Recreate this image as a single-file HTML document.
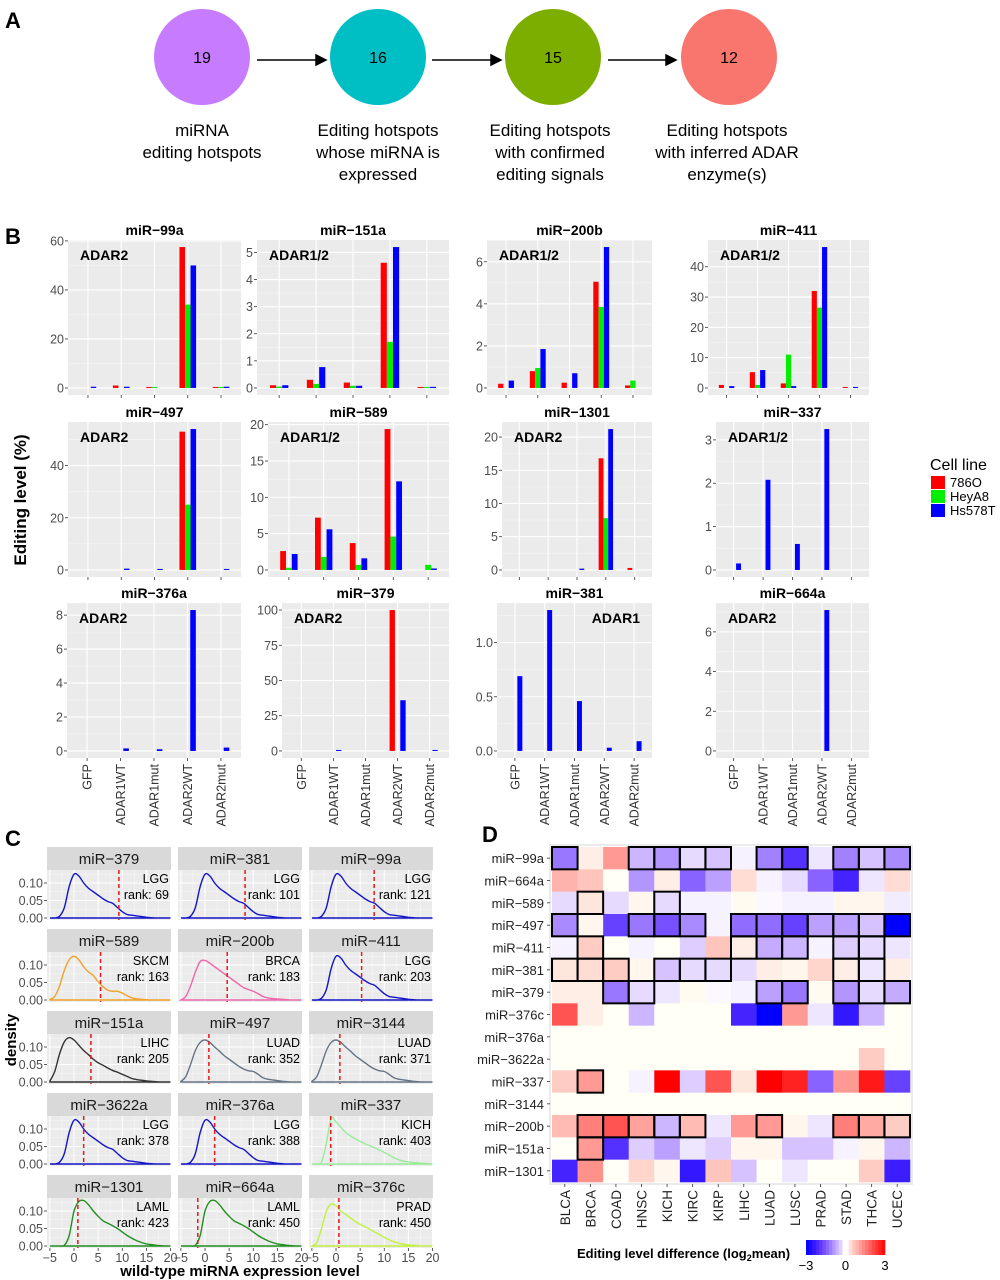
<!DOCTYPE html>
<html><head><meta charset="utf-8"><title>miRNA editing figure</title>
<style>
html,body{margin:0;padding:0;background:#fff;}
svg{display:block;font-family:"Liberation Sans",Arial,sans-serif;}
</style></head>
<body>
<svg id="fig" width="1000" height="1280" viewBox="0 0 1000 1280" xmlns="http://www.w3.org/2000/svg">
<g>
<text x="5" y="28" font-size="22" font-weight="bold">A</text>
<circle cx="202" cy="57" r="48" fill="#c77cff"/>
<circle cx="378" cy="57" r="48" fill="#00bfc4"/>
<circle cx="553" cy="57" r="48" fill="#7cae00"/>
<circle cx="729" cy="57" r="48" fill="#f8766d"/>
<text x="202" y="63" font-size="16" text-anchor="middle">19</text>
<text x="378" y="63" font-size="16" text-anchor="middle">16</text>
<text x="553" y="63" font-size="16" text-anchor="middle">15</text>
<text x="729" y="63" font-size="16" text-anchor="middle">12</text>
<g stroke="#000" stroke-width="1.5" fill="#000">
<line x1="257" y1="60" x2="318" y2="60"/><polygon points="326,60 316,55 316,65"/>
<line x1="432" y1="60" x2="493" y2="60"/><polygon points="501,60 491,55 491,65"/>
<line x1="608" y1="60" x2="668" y2="60"/><polygon points="676,60 666,55 666,65"/>
</g>
<g font-size="17" text-anchor="middle">
<text x="202" y="136"><tspan x="202">miRNA</tspan><tspan x="202" dy="22">editing hotspots</tspan></text>
<text x="378" y="136"><tspan x="378">Editing hotspots</tspan><tspan x="378" dy="22">whose miRNA is</tspan><tspan x="378" dy="22">expressed</tspan></text>
<text x="550" y="136"><tspan x="550">Editing hotspots</tspan><tspan x="550" dy="22">with confirmed</tspan><tspan x="550" dy="22">editing signals</tspan></text>
<text x="727" y="136"><tspan x="727">Editing hotspots</tspan><tspan x="727" dy="22">with inferred ADAR</tspan><tspan x="727" dy="22">enzyme(s)</tspan></text>
</g>
</g>
<text x="5" y="244" font-size="22" font-weight="bold">B</text>
<text x="5" y="846" font-size="22" font-weight="bold">C</text>
<text x="482" y="842" font-size="22" font-weight="bold">D</text>
<text transform="translate(26,500) rotate(-90)" font-size="17" font-weight="bold" text-anchor="middle">Editing level (%)</text>
<g>
<text x="930" y="470" font-size="16">Cell line</text>
<rect x="931" y="476" width="14" height="13" fill="#ff0000"/>
<text x="950" y="487" font-size="13">786O</text>
<rect x="931" y="490" width="14" height="13" fill="#00ee00"/>
<text x="950" y="501" font-size="13">HeyA8</text>
<rect x="931" y="504" width="14" height="13" fill="#0000ff"/>
<text x="950" y="515" font-size="13">Hs578T</text>
</g>
<text transform="translate(16,1040) rotate(-90)" font-size="15" font-weight="bold" text-anchor="middle">density</text>
<text x="240" y="1276" font-size="15" font-weight="bold" text-anchor="middle">wild-type miRNA expression level</text>
</svg>
<script>
// ---------- Panel B data ----------
const bGroups = ['GFP','ADAR1WT','ADAR1mut','ADAR2WT','ADAR2mut'];
const bNames = ['miR-99a','miR-151a','miR-200b','miR-411','miR-497','miR-589','miR-1301','miR-337','miR-376a','miR-379','miR-381','miR-664a'];
const bEnzymes = ['ADAR2','ADAR1/2','ADAR1/2','ADAR1/2','ADAR2','ADAR1/2','ADAR2','ADAR1/2','ADAR2','ADAR2','ADAR1','ADAR2'];
const bRed = [[0,1,0.3,57.5,0.3],[0.1,0.3,0.2,4.62,0.03],[0.2,0.8,0.25,5.05,0.12],[1,5.2,1.5,32,0.2],[0,0,0,53,0],[2.6,7.2,3.7,19.4,0],[0,0,0,16.8,0.3],[0,0,0,0,0],[0,0,0,0,0],[0,0,0,100,0],[0,0,0,0,0],[0,0,0,0,0]];
const bGreen = [[0,0,0.3,34,0.3],[0.05,0.15,0.08,1.7,0.03],[0,0.95,0,3.85,0.35],[0,1,11,26.5,0],[0,0,0,25,0],[0.3,1.8,0.7,4.6,0.7],[0,0,0,7.8,0],[0,0,0,0,0],[0,0,0,0,0],[0,0,0,0,0],[0,0,0,0,0],[0,0,0,0,0]];
const bBlue = [[0.5,0.5,0,50,0.5],[0.1,0.77,0.08,5.2,0.04],[0.35,1.85,0.7,6.7,0],[0.6,5.9,0.6,46.5,0.2],[0,0.5,0.1,54,0.1],[2.2,5.6,1.6,12.2,0.2],[0,0,0.2,21.2,0],[0.15,2.08,0.6,3.25,0],[0,0.15,0.1,8.3,0.2],[0,0.5,0,36,0.2],[0.69,1.3,0.46,0.03,0.09],[0,0,0,7.1,0]];
const bTicks = [[0,20,40,60],[0,1,2,3,4,5],[0,2,4,6],[0,10,20,30,40],[0,20,40],[0,5,10,15,20],[0,5,10,15,20],[0,1,2,3],[0,2,4,6,8],[0,25,50,75,100],[0,0.5,1.0],[0,2,4,6]];
const bTickLabels = [['0','20','40','60'],['0','1','2','3','4','5'],['0','2','4','6'],['0','10','20','30','40'],['0','20','40'],['0','5','10','15','20'],['0','5','10','15','20'],['0','1','2','3'],['0','2','4','6','8'],['0','25','50','75','100'],['0.0','0.5','1.0'],['0','2','4','6']];

// ---------- Panel C data ----------
const cNames = ['miR-379','miR-381','miR-99a','miR-589','miR-200b','miR-411','miR-151a','miR-497','miR-3144','miR-3622a','miR-376a','miR-337','miR-1301','miR-664a','miR-376c'];
const cTissue = ['LGG','LGG','LGG','SKCM','BRCA','LGG','LIHC','LUAD','LUAD','LGG','LGG','KICH','LAML','LAML','PRAD'];
const cRank = [69,101,121,163,183,203,205,352,371,378,388,403,423,450,450];
const cCutoff = [9.3,8.3,7.9,5.5,4.6,5.3,3.5,0.8,0.8,2.0,2.0,-1.1,0.8,-1.5,0.6];
const cDensX = [-5,-4,-3,-2,-1,0,1,2,3,4,5,6,7,8,9,10,11,12,13,14,15,16,17,18,19,20];
const densLGG  = [0,0,0.005,0.03,0.09,0.125,0.12,0.1,0.085,0.075,0.065,0.055,0.047,0.042,0.03,0.018,0.01,0.008,0.006,0.004,0.002,0.001,0,0,0,0];
const densSKCM = [0.002,0.01,0.04,0.085,0.115,0.125,0.115,0.095,0.08,0.07,0.052,0.038,0.028,0.025,0.025,0.02,0.012,0.006,0.003,0.002,0.001,0,0,0,0,0];
const densBRCA = [0,0.01,0.04,0.08,0.11,0.113,0.105,0.095,0.085,0.075,0.065,0.055,0.045,0.035,0.03,0.025,0.018,0.01,0.006,0.004,0.003,0.002,0.001,0,0,0];
const densLIHC = [0.003,0.03,0.08,0.115,0.127,0.12,0.105,0.09,0.078,0.065,0.055,0.048,0.04,0.033,0.028,0.022,0.016,0.01,0.007,0.005,0.003,0.002,0.001,0,0,0];
const densLUAD = [0.002,0.015,0.05,0.09,0.113,0.12,0.113,0.1,0.088,0.075,0.065,0.055,0.045,0.037,0.032,0.03,0.022,0.012,0.008,0.006,0.004,0.002,0.001,0,0,0];
const densKICH = [0,0,0.005,0.06,0.13,0.12,0.105,0.09,0.08,0.072,0.065,0.058,0.052,0.046,0.04,0.033,0.026,0.018,0.012,0.008,0.006,0.004,0.003,0.002,0.001,0];
const densLAML = [0,0,0,0.002,0.03,0.1,0.127,0.13,0.118,0.1,0.085,0.072,0.065,0.058,0.05,0.04,0.03,0.022,0.015,0.01,0.006,0.004,0.002,0.001,0,0];
const densPRAD = [0,0.01,0.05,0.1,0.12,0.115,0.1,0.09,0.08,0.07,0.062,0.055,0.048,0.04,0.033,0.025,0.018,0.012,0.008,0.005,0.003,0.002,0.001,0,0,0];
const cYTicks = [0,0.05,0.10];
const cYTickLabels = ['0.00','0.05','0.10'];
const cXTicks = [-5,0,5,10,15,20];
const cXTickLabels = ['\u22125','0','5','10','15','20'];

// ---------- Panel D data ----------
const hmRows = ['miR-99a','miR-664a','miR-589','miR-497','miR-411','miR-381','miR-379','miR-376c','miR-376a','miR-3622a','miR-337','miR-3144','miR-200b','miR-151a','miR-1301'];
const hmCols = ['BLCA','BRCA','COAD','HNSC','KICH','KIRC','KIRP','LIHC','LUAD','LUSC','PRAD','STAD','THCA','UCEC'];
const hmValues = [
 [-1.2,0.2,1.2,-0.6,-0.9,-0.3,-0.5,-0.1,-1.1,-2.0,-0.2,-1.1,-0.5,-1.0],
 [0.9,0.7,0,-0.9,0.2,-1.4,-0.8,0.4,-0.1,-0.3,-1.4,-2.2,-0.2,0.4],
 [-0.3,0.3,-0.3,0.1,-0.3,-0.1,-0.1,0.05,-0.05,-0.1,-0.1,0.1,0.1,-0.15],
 [-1.0,0.1,-1.8,-1.2,-1.6,-1.0,-0.1,-1.3,-1.3,-1.8,-0.8,-0.8,-0.5,-3.0],
 [-0.1,0.6,0,-0.1,0,-0.4,0.7,0.2,-0.7,-0.6,-0.1,-0.4,-0.3,-0.2],
 [0.3,0.4,0.6,0.1,-0.5,-0.3,-0.3,-0.3,0.2,0.1,0.5,0.2,-0.2,0.2],
 [0.2,0.2,-1.2,-0.3,-0.2,0.05,-0.05,-0.1,-0.8,-1.2,0.05,-0.9,-0.3,-0.7],
 [2.0,0.2,0,-0.6,0,0,0,-2.2,-3.0,1.2,-0.2,-2.4,-0.6,0],
 [0,0,0,0,0,0,0,0,0,0,0,0,0,0],
 [0,0,0,0,0,0,0,0,0,0,0,0,0.6,0],
 [0.6,1.2,0,-0.1,3.0,-0.4,2.0,0.3,3.0,2.6,-1.4,1.2,2.7,-1.8],
 [0,0,0,0,0,0,0,0,0,0,0,0,0,0],
 [0.8,1.5,2.0,1.1,-0.6,0.8,-0.2,1.2,1.2,0.1,-0.2,1.5,1.0,0.6],
 [0,1.2,-2.0,-0.4,-0.8,-0.2,-0.4,0.1,0.1,-0.5,-0.5,-0.1,0.1,-0.6],
 [-2.2,1.3,0,0.5,0.1,-2.4,0.7,-0.5,0,-0.2,0,0,0.6,-2.3]
];
const hmBoxed = [[0,3,4,5,6,8,9,11,12,13],[],[1,4],[0,3,4,5,7,8,9,10,11,12,13],[1,7,8,9,11,12],[0,1,2,4,5,6,11,12],[2,3,8,9,11,12,13],[],[],[],[1],[],[1,2,3,4,5,8,11,12,13],[1],[]];
const hmLegendTicks = [-3,0,3];
const hmLegendLabels = ['\u22123','0','3'];

// ---------- helpers ----------
const NS='http://www.w3.org/2000/svg';
const svg=document.getElementById('fig');
function mk(tag,attrs,parent){const e=document.createElementNS(NS,tag);for(const k in attrs)e.setAttribute(k,attrs[k]);(parent||svg).appendChild(e);return e;}

// ---------- Panel B ----------
const bRight=[241,449,652,869];
const bTop=[240,422,603];
const bLeftArr=[[68,257,487,708],[68,268,502,716],[67,282,497,716]];
const bH=155;
const barColors=['#ff0000','#00ee00','#0000ff'];
bNames.forEach((name,p)=>{
  const r=Math.floor(p/4), c=p%4;
  const L=bLeftArr[r][c], R=bRight[c], T=bTop[r], B=T+bH, W=R-L;
  const g=mk('g',{});
  
  
  const series=[bRed[p],bGreen[p],bBlue[p]];
  let vmax=0; series.forEach(s=>s.forEach(v=>{if(v>vmax)vmax=v;}));
  const lo=-0.05*vmax, hi=1.05*vmax;
  const y=v=>B-(v-lo)/(hi-lo)*bH;
  const x=i=>L+(i+1-0.4)/5.2*W;
  const bg=mk('rect',{x:L,y:T,width:W,height:bH,fill:'#ebebeb'},g);
  
  
  const ticks=bTicks[p];
  const step=ticks[1]-ticks[0];
  for(let k=0;k<=ticks.length;k++){
    const mv=ticks[0]+step*(k+0.5);
    if(y(mv)>T){const ml=mk('line',{x1:L,x2:R,y1:y(mv),y2:y(mv),stroke:'#f5f5f5','stroke-width':0.6},g);
      
      }
  }
  ticks.forEach((t,k)=>{
    const gl=mk('line',{x1:L,x2:R,y1:y(t),y2:y(t),stroke:'#fff','stroke-width':1.1},g);
    
    
    const tk=mk('line',{x1:L-3,x2:L,y1:y(t),y2:y(t),stroke:'#333','stroke-width':0.8},g);
    
    
    const tl=mk('text',{x:L-4,y:y(t)+4.5,'font-size':12.5,fill:'#4d4d4d','text-anchor':'end'},g);
    
    
    tl.textContent=bTickLabels[p][k];
  });
  bGroups.forEach((gname,i)=>{
    const vl=mk('line',{x1:x(i),x2:x(i),y1:T,y2:B,stroke:'#fff','stroke-width':1.1},g);
    
    
    const xt=mk('line',{x1:x(i),x2:x(i),y1:B,y2:B+3,stroke:'#333','stroke-width':0.8},g);
    
    
    if(r===2){
      const xl=mk('text',{transform:`translate(${x(i)+4.5},${B+6}) rotate(-90)`,'font-size':12.5,fill:'#333','text-anchor':'end'},g);
      
      
      xl.textContent=gname;
    }
  });
  const bw=0.5/3/5.2*W;
  series.forEach((s,si)=>{
    s.forEach((v,i)=>{
      if(v<=0)return;
      const cx=x(i)+(si-1)*bw;
      const h=Math.max(y(0)-y(v),1);
      const bar=mk('rect',{x:cx-bw/2,y:y(0)-h,width:bw,height:h,fill:barColors[si]},g);
      
      
    });
  });
  const tt=mk('text',{x:(L+R)/2,y:T-5,'font-size':14,'font-weight':'bold','text-anchor':'middle'},g);
  
  
  tt.textContent=name.replace('-','\u2212');
  const right=name==='miR-381';
  const en=mk('text',{x:right?R-12:L+12,y:T+20,'font-size':14,'font-weight':'bold','text-anchor':right?'end':'start'},g);
  
  
  en.textContent=bEnzymes[p];
});

// ---------- Panel C ----------
const curveMap={LGG:densLGG,SKCM:densSKCM,BRCA:densBRCA,LIHC:densLIHC,LUAD:densLUAD,KICH:densKICH,LAML:densLAML,PRAD:densPRAD};
const colorMap={LGG:'#1515c8',SKCM:'#f0a22a',BRCA:'#f066aa',LIHC:'#333333',LUAD:'#657585',KICH:'#98ec98',LAML:'#209020',PRAD:'#c2f040'};
const cLeft=[47,178,309], cW=124, cTop0=847, cPitch=82;
function catmull(pts){
  let d='M'+pts[0][0]+','+pts[0][1];
  for(let i=0;i<pts.length-1;i++){
    const p0=pts[Math.max(i-1,0)],p1=pts[i],p2=pts[i+1],p3=pts[Math.min(i+2,pts.length-1)];
    const c1=[p1[0]+(p2[0]-p0[0])/6,p1[1]+(p2[1]-p0[1])/6];
    const c2=[p2[0]-(p3[0]-p1[0])/6,p2[1]-(p3[1]-p1[1])/6];
    d+=` C${c1[0]},${c1[1]} ${c2[0]},${c2[1]} ${p2[0]},${p2[1]}`;
  }
  return d;
}
cNames.forEach((name,p)=>{
  const r=Math.floor(p/3), c=p%3;
  const L=cLeft[c], T=cTop0+r*cPitch, PT=T+23, PB=T+73, R=L+cW;
  const x=v=>L+(v+5.6)/25.7*cW;
  const y=v=>T+71-v*350;
  const g=mk('g',{});
  
  
  const st=mk('rect',{x:L,y:T,width:cW,height:23,fill:'#d9d9d9'},g);
  
  
  const stt=mk('text',{x:L+cW/2,y:T+17,'font-size':15,fill:'#1a1a1a','text-anchor':'middle'},g);
  
  
  stt.textContent=name.replace('-','\u2212');
  const bg=mk('rect',{x:L,y:PT,width:cW,height:PB-PT,fill:'#ebebeb'},g);
  
  
  for(let v=-2.5;v<20;v+=5){const ml=mk('line',{x1:x(v),x2:x(v),y1:PT,y2:PB,stroke:'#f6f6f6','stroke-width':0.6},g);
    
    }
  [0.025,0.075,0.125].forEach(v=>{if(y(v)>PT){const ml=mk('line',{x1:L,x2:R,y1:y(v),y2:y(v),stroke:'#f6f6f6','stroke-width':0.6},g);
    
    }});
  cXTicks.forEach((t,k)=>{
    const gl=mk('line',{x1:x(t),x2:x(t),y1:PT,y2:PB,stroke:'#fff','stroke-width':1},g);
    
    
    if(r===4){
      const tk=mk('line',{x1:x(t),x2:x(t),y1:PB,y2:PB+3,stroke:'#333','stroke-width':0.8},g);
      
      
      const tl=mk('text',{x:x(t),y:PB+14,'font-size':12.5,fill:'#4d4d4d','text-anchor':'middle'},g);
      
      
      tl.textContent=cXTickLabels[k];
    }
  });
  cYTicks.forEach((t,k)=>{
    const gl=mk('line',{x1:L,x2:R,y1:y(t),y2:y(t),stroke:'#fff','stroke-width':1},g);
    
    
    if(c===0){
      const tk=mk('line',{x1:L-3,x2:L,y1:y(t),y2:y(t),stroke:'#333','stroke-width':0.8},g);
      
      
      const tl=mk('text',{x:L-4,y:y(t)+4.5,'font-size':12.5,fill:'#4d4d4d','text-anchor':'end'},g);
      
      
      tl.textContent=cYTickLabels[k];
    }
  });
  const dens=curveMap[cTissue[p]];
  const pts=cDensX.map((xv,i)=>[x(xv),y(dens[i])]);
  let d=catmull(pts)+` L${x(cDensX[0])},${y(0)} Z`;
  const cv=mk('path',{d:d,fill:'none',stroke:colorMap[cTissue[p]],'stroke-width':1.4},g);
  
  
  const cl=mk('line',{x1:x(cCutoff[p]),x2:x(cCutoff[p]),y1:PT,y2:PB,stroke:'#e41a1c','stroke-width':1.5,'stroke-dasharray':'4,3'},g);
  
  
  const t1=mk('text',{x:R-2,y:PT+13,'font-size':12.5,'text-anchor':'end'},g);
  
  
  t1.textContent=cTissue[p];
  const t2=mk('text',{x:R-2,y:PT+29,'font-size':12.5,'text-anchor':'end'},g);
  
  
  t2.textContent='rank: '+cRank[p];
});

// ---------- Panel D ----------
const hx0=552, hx1=910, hy0=847, hy1=1182;
const cw=(hx1-hx0)/hmCols.length, ch=(hy1-hy0)/hmRows.length;
function hmColor(v){
  const t=Math.min(Math.abs(v)/3,1);
  if(v<0){return `rgb(${Math.round(255*(1-t))},${Math.round(255*Math.pow(1-t,1.5))},255)`;}
  return `rgb(255,${Math.round(255*(1-t))},${Math.round(245*(1-t))})`;
}
const hg=mk('g',{});


const hbg=mk('rect',{x:hx0-2,y:hy0-2,width:hx1-hx0+4,height:hy1-hy0+4,fill:'#fff',stroke:'#ebebeb','stroke-width':2},hg);


hmRows.forEach((rn,ri)=>{
  hmCols.forEach((cn,ci)=>{
    const cell=mk('rect',{x:hx0+ci*cw,y:hy0+ri*ch,width:cw+0.3,height:ch+0.3,fill:hmColor(hmValues[ri][ci])},hg);
    
    
  });
  const tl=mk('text',{x:hx0-8,y:hy0+ri*ch+ch/2+5,'font-size':13,fill:'#222','text-anchor':'end'},hg);
  
  
  tl.textContent=rn.replace('-','\u2212');
  const tk=mk('line',{x1:hx0-5,x2:hx0-2,y1:hy0+ri*ch+ch/2,y2:hy0+ri*ch+ch/2,stroke:'#333','stroke-width':0.8},hg);
  
  
});
hmBoxed.forEach((cols,ri)=>{
  cols.forEach(ci=>{
    const b=mk('rect',{x:hx0+ci*cw,y:hy0+ri*ch,width:cw,height:ch,fill:'none',stroke:'#000','stroke-width':2},hg);
    
    
  });
});
hmCols.forEach((cn,ci)=>{
  const cx=hx0+ci*cw+cw/2;
  const tk=mk('line',{x1:cx,x2:cx,y1:hy1+2,y2:hy1+5,stroke:'#333','stroke-width':0.8},hg);
  
  
  const tl=mk('text',{transform:`translate(${cx+5},${hy1+8}) rotate(-90)`,'font-size':13.5,fill:'#222','text-anchor':'end'},hg);
  
  
  tl.textContent=cn;
});
// legend
const lg=mk('g',{});


const lt=mk('text',{x:577,y:1258,'font-size':13,'font-weight':'bold'},lg);


lt.innerHTML='Editing level difference (log<tspan font-size="9" dy="3">2</tspan><tspan dy="-3">mean)</tspan>';
const lx0=806, lx1=885, ly=1240, lh=15;
const lxs=v=>lx0+(v+3)/6*(lx1-lx0);
for(let i=0;i<24;i++){
  const v0=-3+i*0.25;
  if(Math.abs(v0+0.125)<0.3)continue;
  const seg=mk('rect',{x:lxs(v0),y:ly,width:(lx1-lx0)/24+0.3,height:lh,fill:hmColor(v0+0.125)},lg);
  
  
}
hmLegendTicks.forEach((t,k)=>{
  const tl=mk('text',{x:lxs(t),y:1270,'font-size':13,'text-anchor':'middle'},lg);
  
  
  tl.textContent=hmLegendLabels[k];
});
</script>
</body></html>
